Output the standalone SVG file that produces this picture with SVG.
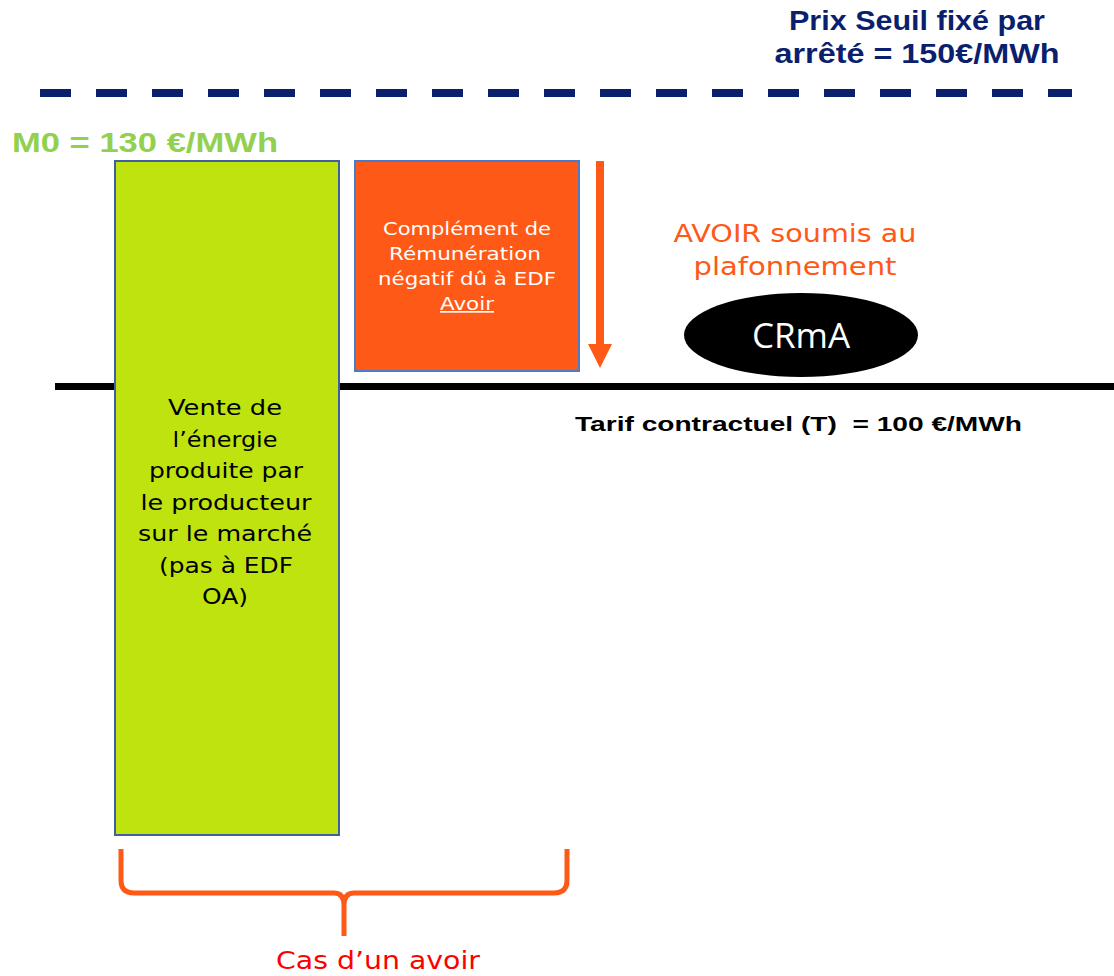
<svg xmlns="http://www.w3.org/2000/svg" width="1114" height="976" viewBox="0 0 1114 976">
<style>
.navy{font-family:"Liberation Sans",Arial,sans-serif;font-weight:bold;font-size:28px;fill:#0A1F6E;text-anchor:middle}
.box{font-family:"DejaVu Sans","Open Sans",sans-serif;text-anchor:middle}
.g{font-size:21px;fill:#000}
.o{font-size:17px;fill:#fff}
.a{font-size:25px;fill:#FE5916}
</style>
<rect width="1114" height="976" fill="#ffffff"/>
<g id="seuil">
<line x1="40" y1="93" x2="1072" y2="93" stroke="#0A1F6E" stroke-width="8" stroke-dasharray="31 25"/>
<text class="navy" x="917" y="30" textLength="256" lengthAdjust="spacingAndGlyphs">Prix Seuil fixé par</text>
<text class="navy" x="917" y="63" textLength="285" lengthAdjust="spacingAndGlyphs">arrêté = 150€/MWh</text>
</g>
<g id="tarif">
<line x1="55" y1="386.5" x2="1114" y2="386.5" stroke="#000" stroke-width="7"/>
<text x="575" y="431" font-family="Liberation Sans,Arial,sans-serif" font-weight="bold" font-size="21" fill="#000" textLength="447" lengthAdjust="spacingAndGlyphs">Tarif contractuel (T)&#160; = 100 €/MWh</text>
</g>
<g id="m0">
<text x="12" y="152" font-family="Liberation Sans,Arial,sans-serif" font-weight="bold" font-size="28" fill="#92D050" textLength="266" lengthAdjust="spacingAndGlyphs">M0 = 130 €/MWh</text>
</g>
<g id="vente">
<rect x="115" y="161" width="224" height="674" fill="#BFE30F" stroke="#3F5F9F" stroke-width="2"/>
<text class="box g" x="225" y="415" textLength="114" lengthAdjust="spacingAndGlyphs">Vente de</text>
<text class="box g" x="225" y="447" textLength="105" lengthAdjust="spacingAndGlyphs">l’énergie</text>
<text class="box g" x="226" y="478" textLength="154" lengthAdjust="spacingAndGlyphs">produite par</text>
<text class="box g" x="226" y="510" textLength="171" lengthAdjust="spacingAndGlyphs">le producteur</text>
<text class="box g" x="225" y="541" textLength="174" lengthAdjust="spacingAndGlyphs">sur le marché</text>
<text class="box g" x="226" y="573" textLength="134" lengthAdjust="spacingAndGlyphs">(pas à EDF</text>
<text class="box g" x="225" y="604" textLength="46" lengthAdjust="spacingAndGlyphs">OA)</text>
</g>
<g id="complement">
<rect x="355" y="161" width="224" height="210" fill="#FE5916" stroke="#4A7BC8" stroke-width="2"/>
<text class="box o" x="467" y="235" textLength="168" lengthAdjust="spacingAndGlyphs">Complément de</text>
<text class="box o" x="465" y="260" textLength="152" lengthAdjust="spacingAndGlyphs">Rémunération</text>
<text class="box o" x="467" y="285" textLength="178" lengthAdjust="spacingAndGlyphs">négatif dû à EDF</text>
<text class="box o" x="467" y="310" textLength="54" lengthAdjust="spacingAndGlyphs" text-decoration="underline">Avoir</text>
</g>
<g id="connectors">
<rect x="596" y="161" width="8" height="184" fill="#FE5916"/>
<polygon points="588,344 612,344 600,368" fill="#FE5916"/>
<path d="M121,849 V880 Q121,893 134,893 H334 Q344,893 344,905 V936 M344,905 Q344,893 354,893 H554 Q567,893 567,880 V849" fill="none" stroke="#FE5916" stroke-width="5"/>
</g>
<g id="avoir-label">
<text class="box a" x="795" y="242" textLength="243" lengthAdjust="spacingAndGlyphs">AVOIR soumis au</text>
<text class="box a" x="795" y="275" textLength="203" lengthAdjust="spacingAndGlyphs">plafonnement</text>
</g>
<g id="crma">
<ellipse cx="801" cy="335" rx="117" ry="42" fill="#000"/>
<text x="801" y="348" font-family="Open Sans,DejaVu Sans,sans-serif" font-size="35" fill="#fff" text-anchor="middle">CRmA</text>
</g>
<g id="cas">
<text class="box" x="378" y="969" font-size="25" fill="#FF0000" textLength="204" lengthAdjust="spacingAndGlyphs">Cas d’un avoir</text>
</g>
</svg>
